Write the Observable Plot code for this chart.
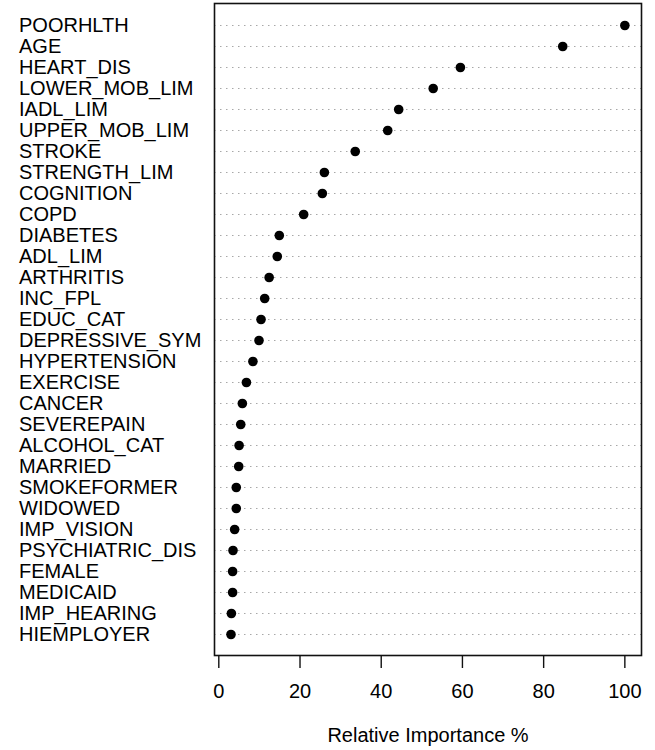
<!DOCTYPE html>
<html>
<head>
<meta charset="utf-8">
<script src="https://cdn.jsdelivr.net/npm/d3@7"></script>
<script src="https://cdn.jsdelivr.net/npm/@observablehq/plot@0.6"></script>
<style>
  html, body { margin: 0; padding: 0; background: #fff; }
</style>
</head>
<body>
<div id="chart"></div>
<script>
const variables = [
  "POORHLTH", "AGE", "HEART_DIS", "LOWER_MOB_LIM", "IADL_LIM", "UPPER_MOB_LIM",
  "STROKE", "STRENGTH_LIM", "COGNITION", "COPD", "DIABETES", "ADL_LIM",
  "ARTHRITIS", "INC_FPL", "EDUC_CAT", "DEPRESSIVE_SYM", "HYPERTENSION", "EXERCISE",
  "CANCER", "SEVEREPAIN", "ALCOHOL_CAT", "MARRIED", "SMOKEFORMER", "WIDOWED",
  "IMP_VISION", "PSYCHIATRIC_DIS", "FEMALE", "MEDICAID", "IMP_HEARING", "HIEMPLOYER"
];
const importance = [
  100, 84.7, 59.5, 52.8, 44.3, 41.6,
  33.6, 26.0, 25.5, 20.9, 14.9, 14.4,
  12.4, 11.3, 10.4, 9.9, 8.4, 6.8,
  5.8, 5.4, 5.0, 4.9, 4.3, 4.3,
  3.9, 3.5, 3.4, 3.4, 3.1, 3.0
];
const xTicks = [0, 20, 40, 60, 80, 100];
const xTitle = "Relative Importance %";

const data = variables.map((v, i) => ({variable: v, value: importance[i]}));

const chart = Plot.plot({
  width: 655,
  height: 750,
  marginLeft: 214,
  marginRight: 14,
  marginTop: 3,
  marginBottom: 95,
  style: {fontFamily: "'Liberation Sans', Arial, sans-serif", fontSize: "20px", color: "#000", background: "#fff"},
  x: {domain: [-1.06, 104.1]},
  y: {type: "point", domain: variables, padding: 0.97},
  marks: [
    Plot.ruleY(variables, {y: d => d, stroke: "#a8a8a8", strokeWidth: 1, strokeDasharray: "1.5,4.5"}),
    Plot.dot(data, {x: "value", y: "variable", r: 4.8, fill: "#000", stroke: "none"}),
    Plot.frame({stroke: "#111", strokeWidth: 1.6}),
    Plot.axisX(xTicks, {anchor: "bottom", tickSize: 13, tickPadding: 15, label: null, stroke: "#111", strokeWidth: 1.4, fontSize: 20}),
    Plot.axisY({anchor: "left", tickSize: 0, textAnchor: "start", dx: -186.5, label: null, fontSize: 20}),
    Plot.text([xTitle], {frameAnchor: "bottom", dy: 80, lineAnchor: "middle", fontSize: 20, fill: "#000"})
  ]
});
document.getElementById("chart").appendChild(chart);
</script>
</body>
</html>
